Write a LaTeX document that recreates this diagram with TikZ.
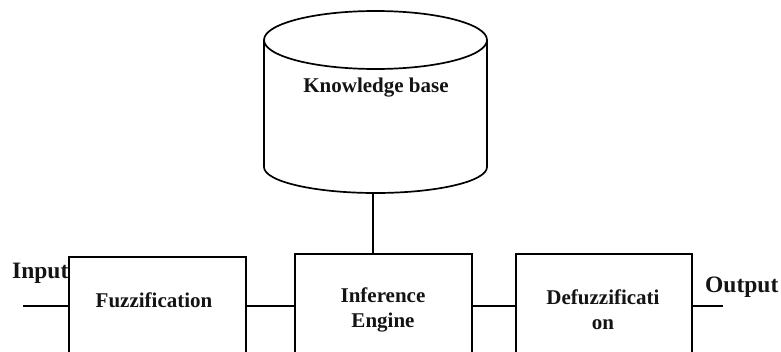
\documentclass[tikz,border=0pt]{standalone}
\usepackage{fontspec}
\setmainfont{Liberation Serif}
\begin{document}
\begin{tikzpicture}[x=1pt,y=-1pt,
  blk/.style={draw,line width=1.9pt,minimum width=#1,minimum height=110pt,inner sep=0pt,anchor=north west},
  lbl/.style={font=\bfseries\fontsize{21}{25}\selectfont,inner sep=0pt,align=center,text=black!92},
  io/.style={font=\bfseries\fontsize{23.5}{28}\selectfont,inner sep=0pt,text=black!92},
  con/.style={line width=1.9pt}]
\useasboundingbox (0,0) rectangle (781,351);
\clip (0,0) rectangle (781,351);
% cylinder
\draw[line width=1.7pt] (264,40) -- (264,167) arc[start angle=180,end angle=360,x radius=111.5pt,y radius=26pt] -- (487,40);
\draw[line width=1.7pt] (375.5,40) ellipse[x radius=111.5pt,y radius=29pt];
\node[lbl] (kb) at (376,88) {Knowledge base};
\coordinate (kbb) at (373,193);
% boxes
\node[blk=177pt] (fz) at (68,256) {};
\node[blk=177pt] (ie) at (294,253) {};
\node[blk=176pt] (df) at (515,253) {};
\node[lbl] (fzt) at (154,300) {Fuzzification};
\node[lbl] (iet) at (383,310) {Inference\\Engine};
\node[lbl] (dft) at (603,310) {Defuzzificati\\on};
\node[io,anchor=west] (in) at (12,273) {Input};
\node[io,anchor=west] (out) at (705,287) {Output};
\coordinate (inS) at (23,306);
\coordinate (outE) at (723,306);
% connectors
\draw[con] (inS) -- (fz.west |- inS);
\draw[con] (fz.east |- inS) -- (ie.west |- inS);
\draw[con] (ie.east |- inS) -- (df.west |- inS);
\draw[con] (df.east |- inS) -- (outE);
\draw[con] (kbb) -- (kbb |- ie.north);
\end{tikzpicture}
\end{document}
